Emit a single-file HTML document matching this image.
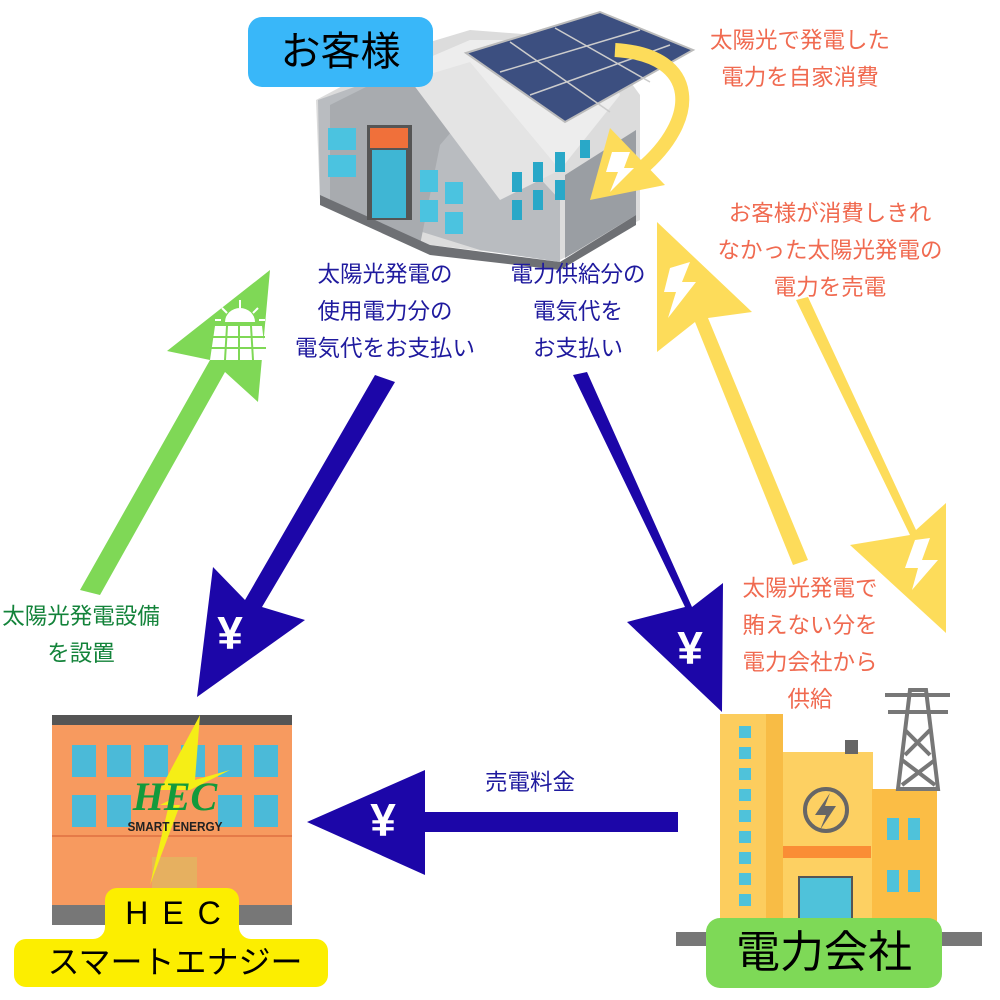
<!DOCTYPE html>
<html><head><meta charset="utf-8"><style>
body{margin:0;width:1000px;height:1000px;background:#fff;overflow:hidden;font-family:"Liberation Sans","Noto Sans CJK JP",sans-serif}
.t{position:absolute;text-align:center;font-size:22.5px;line-height:37px;white-space:nowrap}
.b{color:#1f1a9e}.r{color:#f06a50}.g{color:#13833a}
</style></head><body>
<svg width="1000" height="1000" style="position:absolute;left:0;top:0">
<polygon points="316,100 420,45 470,30 600,40 640,95 640,220 560,260 430,245 320,200" fill="#dcdcdc"/>
<polygon points="318,100 430,60 560,200 560,262 480,250 320,200" fill="#b9bcc0"/>
<polygon points="330,105 430,55 470,110 440,145 420,245 330,200" fill="#a8abaf"/>
<polygon points="400,70 470,40 600,40 620,95 560,170" fill="#ededed"/>
<polygon points="410,80 470,62 560,170 500,200" fill="#e4e4e4"/>
<polygon points="565,175 636,130 636,215 565,258" fill="#9a9ea3"/>
<polygon points="320,195 430,245 560,262 636,215 636,225 560,270 430,255 320,205" fill="#6e7074"/>
<polygon points="466,53 600,12 693,50 565,122" fill="#3c4f80" stroke="#bbb" stroke-width="2"/>
<line x1="510" y1="42" x2="610" y2="112" stroke="#ccc" stroke-width="1.5"/>
<line x1="555" y1="28" x2="650" y2="82" stroke="#ccc" stroke-width="1.5"/>
<line x1="500" y1="72" x2="640" y2="30" stroke="#ccc" stroke-width="1.5"/>
<line x1="530" y1="95" x2="670" y2="45" stroke="#ccc" stroke-width="1.5"/>
<rect x="367" y="125" width="45" height="95" fill="#555"/>
<rect x="370" y="128" width="38" height="20" fill="#f0703a"/>
<rect x="372" y="150" width="34" height="68" fill="#3fb6d4"/>
<g fill="#4bc3e0"><rect x="328" y="128" width="28" height="22"/><rect x="328" y="155" width="28" height="22"/><rect x="420" y="170" width="18" height="22"/><rect x="445" y="182" width="18" height="22"/><rect x="420" y="200" width="18" height="22"/><rect x="445" y="212" width="18" height="22"/></g>
<g fill="#29a8c8"><rect x="512" y="172" width="10" height="20"/><rect x="533" y="162" width="10" height="20"/><rect x="555" y="152" width="10" height="20"/><rect x="512" y="200" width="10" height="20"/><rect x="533" y="190" width="10" height="20"/><rect x="555" y="180" width="10" height="20"/><rect x="580" y="140" width="10" height="18"/></g>
<rect x="248" y="17" width="185" height="70" rx="14" fill="#39b7f9"/>
<path d="M615,50 C700,55 700,120 640,170" fill="none" stroke="#fddc5a" stroke-width="14"/>
<polygon points="590,200 610,128 665,185" fill="#fddc5a"/>
<polygon points="612,152 630,152 624,168 634,168 610,192 618,172 606,172" fill="#fff"/>
<polygon points="793,565 808,560 708,318 752,312 657,222 657,352 695,322" fill="#fddc5a"/>
<polygon points="670,268 690,262 682,282 696,282 668,318 676,292 664,292" fill="#fff"/>
<polygon points="796,300 808,297 916,530 946,503 946,633 850,545 910,535" fill="#fddc5a"/>
<polygon points="915,540 930,538 922,560 938,560 912,590 918,568 905,568" fill="#fff"/>
<polygon points="80,590 100,595 225,372 258,402 270,270 167,351 210,360" fill="#7fd856"/>
<path d="M225,322 a15,14 0 0 1 30,0 z" fill="#fff"/>
<polygon points="215,326 262,326 266,360 210,360" fill="#fff"/>
<g stroke="#7fd856" stroke-width="2"><line x1="212" y1="337" x2="265" y2="337"/><line x1="211" y1="348" x2="266" y2="348"/><line x1="227" y1="326" x2="225" y2="360"/><line x1="239" y1="326" x2="239" y2="360"/><line x1="251" y1="326" x2="253" y2="360"/></g>
<g stroke="#fff" stroke-width="2"><line x1="240" y1="300" x2="240" y2="308"/><line x1="222" y1="308" x2="227" y2="313"/><line x1="258" y1="308" x2="253" y2="313"/><line x1="215" y1="320" x2="221" y2="320"/><line x1="259" y1="320" x2="265" y2="320"/></g>
<polygon points="375,375 395,382 262,607 305,620 197,697 213,567 245,600" fill="#1c06a8"/>
<polygon points="573,375 587,372 692,607 723,583 722,712 627,622 685,607" fill="#1c06a8"/>
<polygon points="678,812 678,832 425,832 425,875 307,822 425,770 425,812" fill="#1c06a8"/>
<rect x="52" y="715" width="240" height="210" fill="#f79a5f"/>
<rect x="52" y="715" width="240" height="10" fill="#555"/>
<rect x="52" y="905" width="240" height="20" fill="#777"/>
<line x1="52" y1="836" x2="292" y2="836" stroke="#e57a48" stroke-width="2"/>
<g fill="#4bbad8"><rect x="72" y="745" width="24" height="32"/><rect x="107" y="745" width="24" height="32"/><rect x="144" y="745" width="24" height="32"/><rect x="181" y="745" width="24" height="32"/><rect x="218" y="745" width="24" height="32"/><rect x="254" y="745" width="24" height="32"/><rect x="72" y="795" width="24" height="32"/><rect x="107" y="795" width="24" height="32"/><rect x="218" y="795" width="24" height="32"/><rect x="254" y="795" width="24" height="32"/></g>
<rect x="152" y="857" width="45" height="50" fill="#e6b060"/>
<polygon points="200,715 160,790 190,790 170,800 150,885 180,805 160,805 230,770 195,780" fill="#f5ee16"/>
<text x="175" y="810" font-family="Liberation Serif" font-style="italic" font-weight="bold" font-size="40" fill="#129a3c" text-anchor="middle">HEC</text>
<text x="175" y="831" font-family="Liberation Sans" font-weight="bold" font-size="13" fill="#222" text-anchor="middle" textLength="95" lengthAdjust="spacingAndGlyphs">SMART ENERGY</text>
<path d="M117,888 h110 a12,12 0 0 1 12,12 v27 a12,12 0 0 0 12,12 h65 a12,12 0 0 1 12,12 v24 a12,12 0 0 1 -12,12 h-290 a12,12 0 0 1 -12,-12 v-24 a12,12 0 0 1 12,-12 h67 a12,12 0 0 0 12,-12 v-27 a12,12 0 0 1 12,-12 z" fill="#fcee00"/>
<rect x="676" y="932" width="306" height="14" fill="#777"/>
<rect x="720" y="714" width="63" height="210" fill="#fccd5e"/>
<rect x="766" y="714" width="17" height="210" fill="#f8bc45"/>
<rect x="783" y="752" width="90" height="172" fill="#fdd062"/>
<rect x="845" y="740" width="13" height="14" fill="#666"/>
<rect x="872" y="789" width="65" height="135" fill="#fbbd45"/>
<rect x="783" y="846" width="88" height="12" fill="#fa8d35"/>
<circle cx="826" cy="810" r="21" fill="none" stroke="#666" stroke-width="4"/>
<polygon points="830,793 815,815 826,815 820,830 836,806 825,806" fill="#666"/>
<rect x="799" y="877" width="53" height="50" fill="#4fc2da" stroke="#555" stroke-width="2"/>
<g fill="#4fc2da"><rect x="739" y="726" width="12" height="12"/><rect x="739" y="747" width="12" height="12"/><rect x="739" y="768" width="12" height="12"/><rect x="739" y="789" width="12" height="12"/><rect x="739" y="810" width="12" height="12"/><rect x="739" y="831" width="12" height="12"/><rect x="739" y="852" width="12" height="12"/><rect x="739" y="873" width="12" height="12"/><rect x="739" y="894" width="12" height="12"/><rect x="887" y="818" width="12" height="22"/><rect x="908" y="818" width="12" height="22"/><rect x="887" y="870" width="12" height="22"/><rect x="908" y="870" width="12" height="22"/></g>
<g stroke="#777" stroke-width="4" fill="none"><polygon points="898,789 910,690 926,690 938,789"/><line x1="885" y1="695" x2="950" y2="695"/><line x1="888" y1="712" x2="948" y2="712"/><path d="M905,730 L930,755 M930,730 L905,755 M902,760 L935,785 M935,760 L902,785"/></g>
<rect x="706" y="918" width="236" height="70" rx="14" fill="#7ed957"/>
</svg>
<div class="t" style="left:248px;top:22px;width:185px;font-size:40px;line-height:60px">お客様</div>
<div class="t r" style="left:690px;top:22px;width:220px">太陽光で発電した<br>電力を自家消費</div>
<div class="t r" style="left:700px;top:195px;width:260px">お客様が消費しきれ<br>なかった太陽光発電の<br>電力を売電</div>
<div class="t b" style="left:275px;top:256px;width:220px">太陽光発電の<br>使用電力分の<br>電気代をお支払い</div>
<div class="t b" style="left:478px;top:256px;width:200px">電力供給分の<br>電気代を<br>お支払い</div>
<div class="t r" style="left:700px;top:570px;width:220px">太陽光発電で<br>賄えない分を<br>電力会社から<br>供給</div>
<div class="t g" style="left:0px;top:598px;width:162px">太陽光発電設備<br>を設置</div>
<div class="t b" style="left:460px;top:764px;width:140px">売電料金</div>
<div class="t" style="left:200px;top:603px;width:60px;color:#fff;font-size:46px;line-height:60px;font-weight:bold">¥</div>
<div class="t" style="left:660px;top:618px;width:60px;color:#fff;font-size:46px;line-height:60px;font-weight:bold">¥</div>
<div class="t" style="left:353px;top:790px;width:60px;color:#fff;font-size:46px;line-height:60px;font-weight:bold">¥</div>
<div class="t" style="left:90px;top:893px;width:180px;font-size:32px;line-height:40px;letter-spacing:14px">HEC</div>
<div class="t" style="left:20px;top:940px;width:310px;font-size:32px;line-height:44px">スマートエナジー</div>
<div class="t" style="left:706px;top:922px;width:236px;font-size:44px;line-height:62px">電力会社</div>
</body></html>
